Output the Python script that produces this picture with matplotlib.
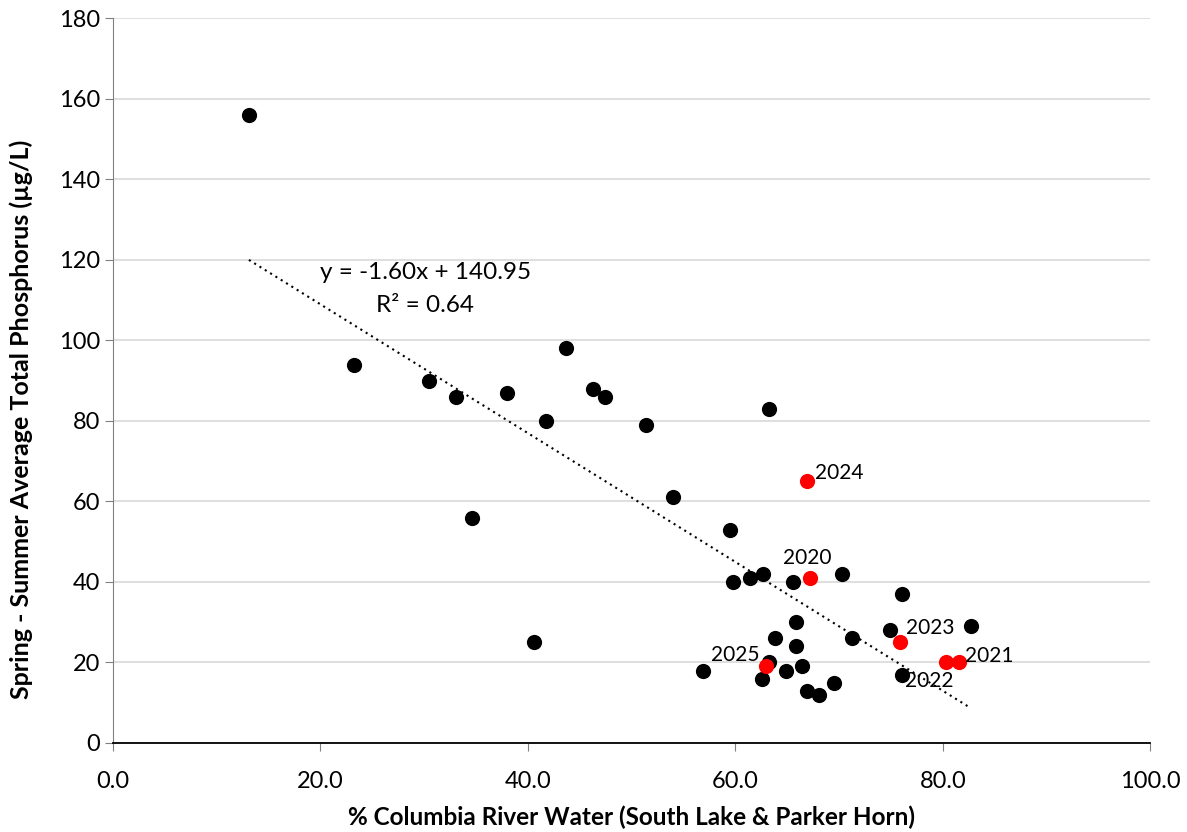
"""
Scatter of spring-summer total phosphorus vs % Columbia River water,
with a linear trendline and labelled recent years.
"""

import matplotlib
matplotlib.use("Agg")
import matplotlib.pyplot as plt
import numpy as np

plt.rcParams["font.family"] = ["Lato", "DejaVu Sans"]

# ------------------------------------------------------------
# Data
# ------------------------------------------------------------
pct_river = [13.1, 23.2, 30.5, 33.1, 38.0, 34.6, 41.7, 40.6, 43.7, 46.3,
             47.4, 51.4, 54.0, 59.5, 63.2, 59.8, 61.4, 62.7, 65.5, 70.3,
             76.1, 65.8, 63.8, 65.8, 71.2, 74.9, 82.7, 56.9, 63.2, 62.6,
             64.9, 66.4, 66.9, 68.1, 69.5, 76.1]
total_p = [156, 94, 90, 86, 87, 56, 80, 25, 98, 88,
           86, 79, 61, 53, 83, 40, 41, 42, 40, 42,
           37, 30, 26, 24, 26, 28, 29, 18, 20, 16,
           18, 19, 13, 12, 15, 17]

years = ["2020", "2021", "2022", "2023", "2024", "2025"]
year_pct = [67.2, 81.5, 80.3, 75.9, 66.9, 62.9]
year_tp = [41, 20, 20, 25, 65, 19]
# label offsets in points (dx, dy) and alignment
year_offsets = [(-2, 14), (5, 5), (-12, -13), (4, 10), (6, 6), (-4, 8)]
year_ha = ["center", "left", "center", "left", "left", "right"]

slope = -1.60
intercept = 140.95
r_squared = 0.64

# ------------------------------------------------------------
# Plot
# ------------------------------------------------------------
fig = plt.figure(figsize=(11.87, 8.32), dpi=100)
ax = fig.add_axes([0.0952, 0.107, 0.874, 0.871])

all_x = np.array(pct_river + year_pct)
trend_x = np.array([all_x.min(), all_x.max()])
ax.plot(trend_x, slope * trend_x + intercept, color="black",
        linestyle=(0, (1, 2)), linewidth=1.5, zorder=2)

ax.scatter(pct_river, total_p, s=120, color="black", zorder=3, linewidths=0)
ax.scatter(year_pct, year_tp, s=120, color="#ff0000", zorder=4, linewidths=0)

for yr, x, y, off, ha in zip(years, year_pct, year_tp, year_offsets, year_ha):
    ax.annotate(yr, (x, y), xytext=off, textcoords="offset points",
                ha=ha, va="center", fontsize=15, zorder=5)

ax.text(30.1, 116.8, f"y = {slope:.2f}x + {intercept:.2f}",
        ha="center", va="center", fontsize=17.5)
ax.text(30.1, 108.6, f"R\u00b2 = {r_squared:.2f}",
        ha="center", va="center", fontsize=17.5)

ax.set_xlim(0, 100)
ax.set_ylim(0, 180)
ax.set_xticks(np.arange(0, 101, 20))
ax.set_xticklabels([f"{v:.1f}" for v in np.arange(0, 101, 20)])
ax.set_yticks(np.arange(0, 181, 20))

ax.yaxis.grid(True, color="#d9d9d9", linewidth=1.2)
ax.set_axisbelow(True)

for side in ("top", "right"):
    ax.spines[side].set_visible(False)
ax.spines["left"].set_color("#808080")
ax.spines["bottom"].set_color("black")
ax.spines["bottom"].set_linewidth(1.3)

ax.tick_params(axis="both", direction="out", length=6, labelsize=17,
               color="#808080")
ax.tick_params(axis="x", pad=14)

ax.set_xlabel("% Columbia River Water (South Lake & Parker Horn)",
              fontsize=17.5, fontweight="bold", labelpad=10)
ax.set_ylabel("Spring - Summer Average Total Phosphorus (\u00b5g/L)",
              fontsize=18, fontweight="bold")
ax.yaxis.set_label_coords(-0.077, 0.447)

fig.savefig("out.png", dpi=100)
plt.close(fig)
